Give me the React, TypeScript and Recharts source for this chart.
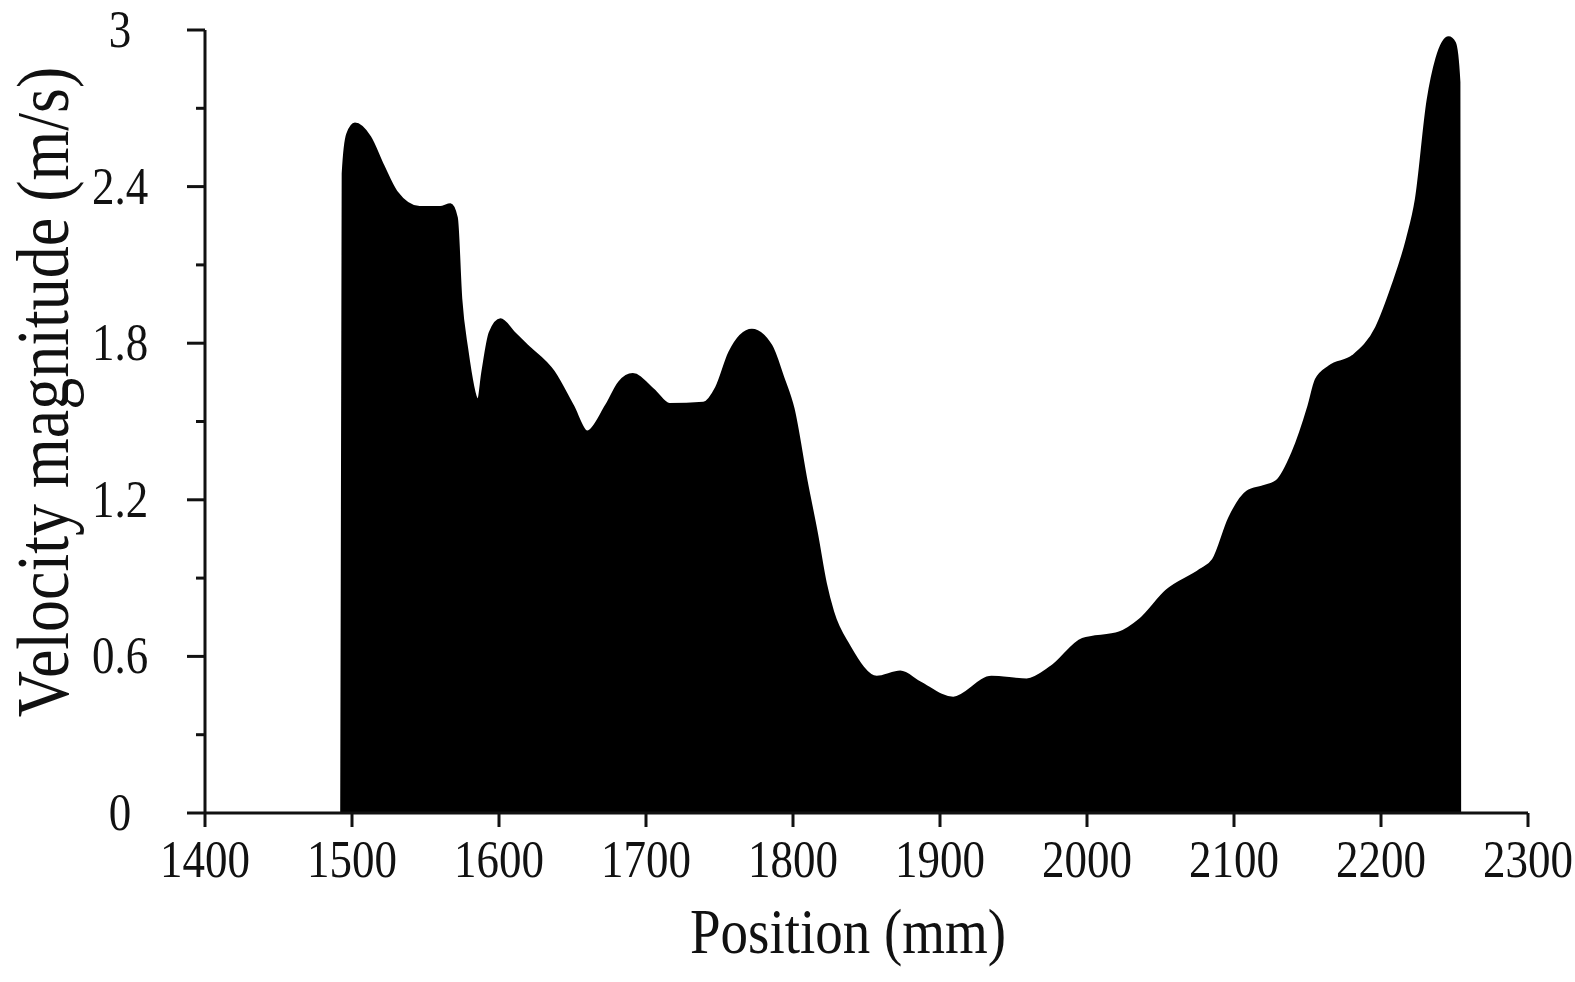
import { AreaChart, Area, XAxis, YAxis, Label } from 'recharts';

// upper envelope of the velocity scatter
const positions = [
  1493, 1494, 1497, 1502, 1512, 1521, 1530, 1546, 1560, 1567, 1571, 1574, 1578, 1586, 1589,
  1594, 1601, 1610, 1619, 1637, 1650, 1660, 1673, 1682, 1691, 1705, 1716, 1739, 1748, 1757,
  1772, 1785, 1793, 1800, 1809, 1816, 1822, 1827, 1838, 1857, 1873, 1886, 1909, 1935, 1959,
  1976, 1997, 2022, 2036, 2054, 2077, 2086, 2097, 2109, 2120, 2129, 2140, 2151, 2156, 2165,
  2181, 2197, 2208, 2218, 2224, 2232, 2238, 2246, 2250, 2253, 2253.5,
];
const velocities = [
  0, 2.45, 2.6, 2.64, 2.59, 2.48, 2.38, 2.32, 2.32, 2.33, 2.28, 1.97, 1.78, 1.58, 1.69,
  1.84, 1.89, 1.84, 1.79, 1.69, 1.56, 1.46, 1.56, 1.65, 1.68, 1.62, 1.565, 1.57, 1.63, 1.765,
  1.85, 1.79, 1.67, 1.55, 1.27, 1.07, 0.88, 0.77, 0.64, 0.52, 0.54, 0.5, 0.44, 0.52, 0.51,
  0.56, 0.665, 0.69, 0.74, 0.85, 0.93, 0.97, 1.13, 1.23, 1.25, 1.27, 1.38, 1.56, 1.66, 1.71,
  1.75, 1.86, 2.02, 2.2, 2.35, 2.73, 2.89, 2.97, 2.95, 2.8, 0,
];

const xTicks = [1400, 1500, 1600, 1700, 1800, 1900, 2000, 2100, 2200, 2300];
const yTicks = [0, 0.3, 0.6, 0.9, 1.2, 1.5, 1.8, 2.1, 2.4, 2.7, 3];
const yMajorTicks = [0, 0.6, 1.2, 1.8, 2.4, 3];

const chartData = positions.map((p, i) => ({ position: p, velocity: velocities[i] }));

const FONT = '"Liberation Serif", "Times New Roman", serif';
const INK = '#111';

function XTick({ x, y, payload }: any) {
  return (
    <g>
      <line x1={x} x2={x} y1={y} y2={y + 14} stroke={INK} strokeWidth={3} />
      <text
        transform={`translate(${x}, ${y + 64}) scale(1, 1.15)`}
        textAnchor="middle"
        fontFamily={FONT}
        fontSize={45}
        fill={INK}
      >
        {payload.value}
      </text>
    </g>
  );
}

function YTick({ x, y, payload }: any) {
  const major = yMajorTicks.includes(payload.value);
  return (
    <g>
      <line x1={x - (major ? 18 : 9)} x2={x} y1={y} y2={y} stroke={INK} strokeWidth={3} />
      {major && (
        <text
          transform={`translate(${x - 85}, ${y + 17}) scale(1, 1.15)`}
          textAnchor="middle"
          fontFamily={FONT}
          fontSize={45}
          fill={INK}
        >
          {String(payload.value)}
        </text>
      )}
    </g>
  );
}

export default function App() {
  return (
    <div style={{ position: 'absolute', left: 0, top: 0, width: 1575, height: 982, background: '#fff' }}>
      <AreaChart
        width={1575}
        height={982}
        data={chartData}
        margin={{ top: 30, right: 47, bottom: 109, left: 105 }}
      >
        <XAxis
          dataKey="position"
          type="number"
          domain={[1400, 2300]}
          ticks={xTicks}
          interval={0}
          height={60}
          tickSize={0}
          tickMargin={0}
          tickLine={false}
          axisLine={{ stroke: INK, strokeWidth: 3 }}
          tick={<XTick />}
        >
          <Label
            content={() => (
              <text
                transform="translate(848, 953) scale(1, 1.15)"
                textAnchor="middle"
                fontFamily={FONT}
                fontSize={55}
                fill={INK}
              >
                Position (mm)
              </text>
            )}
          />
        </XAxis>
        <YAxis
          type="number"
          domain={[0, 3]}
          ticks={yTicks}
          interval={0}
          width={100}
          tickSize={0}
          tickMargin={0}
          tickLine={false}
          axisLine={{ stroke: INK, strokeWidth: 3 }}
          tick={<YTick />}
        >
          <Label
            content={() => (
              <text
                transform="translate(68, 392) rotate(-90) scale(1, 1.15)"
                textAnchor="middle"
                fontFamily={FONT}
                fontSize={64}
                fill={INK}
              >
                Velocity magnitude (m/s)
              </text>
            )}
          />
        </YAxis>
        <Area
          dataKey="velocity"
          type="monotone"
          stroke="#000"
          strokeWidth={3}
          fill="#000"
          fillOpacity={1}
          baseValue={0}
          dot={false}
          activeDot={false}
          isAnimationActive={false}
        />
      </AreaChart>
    </div>
  );
}
